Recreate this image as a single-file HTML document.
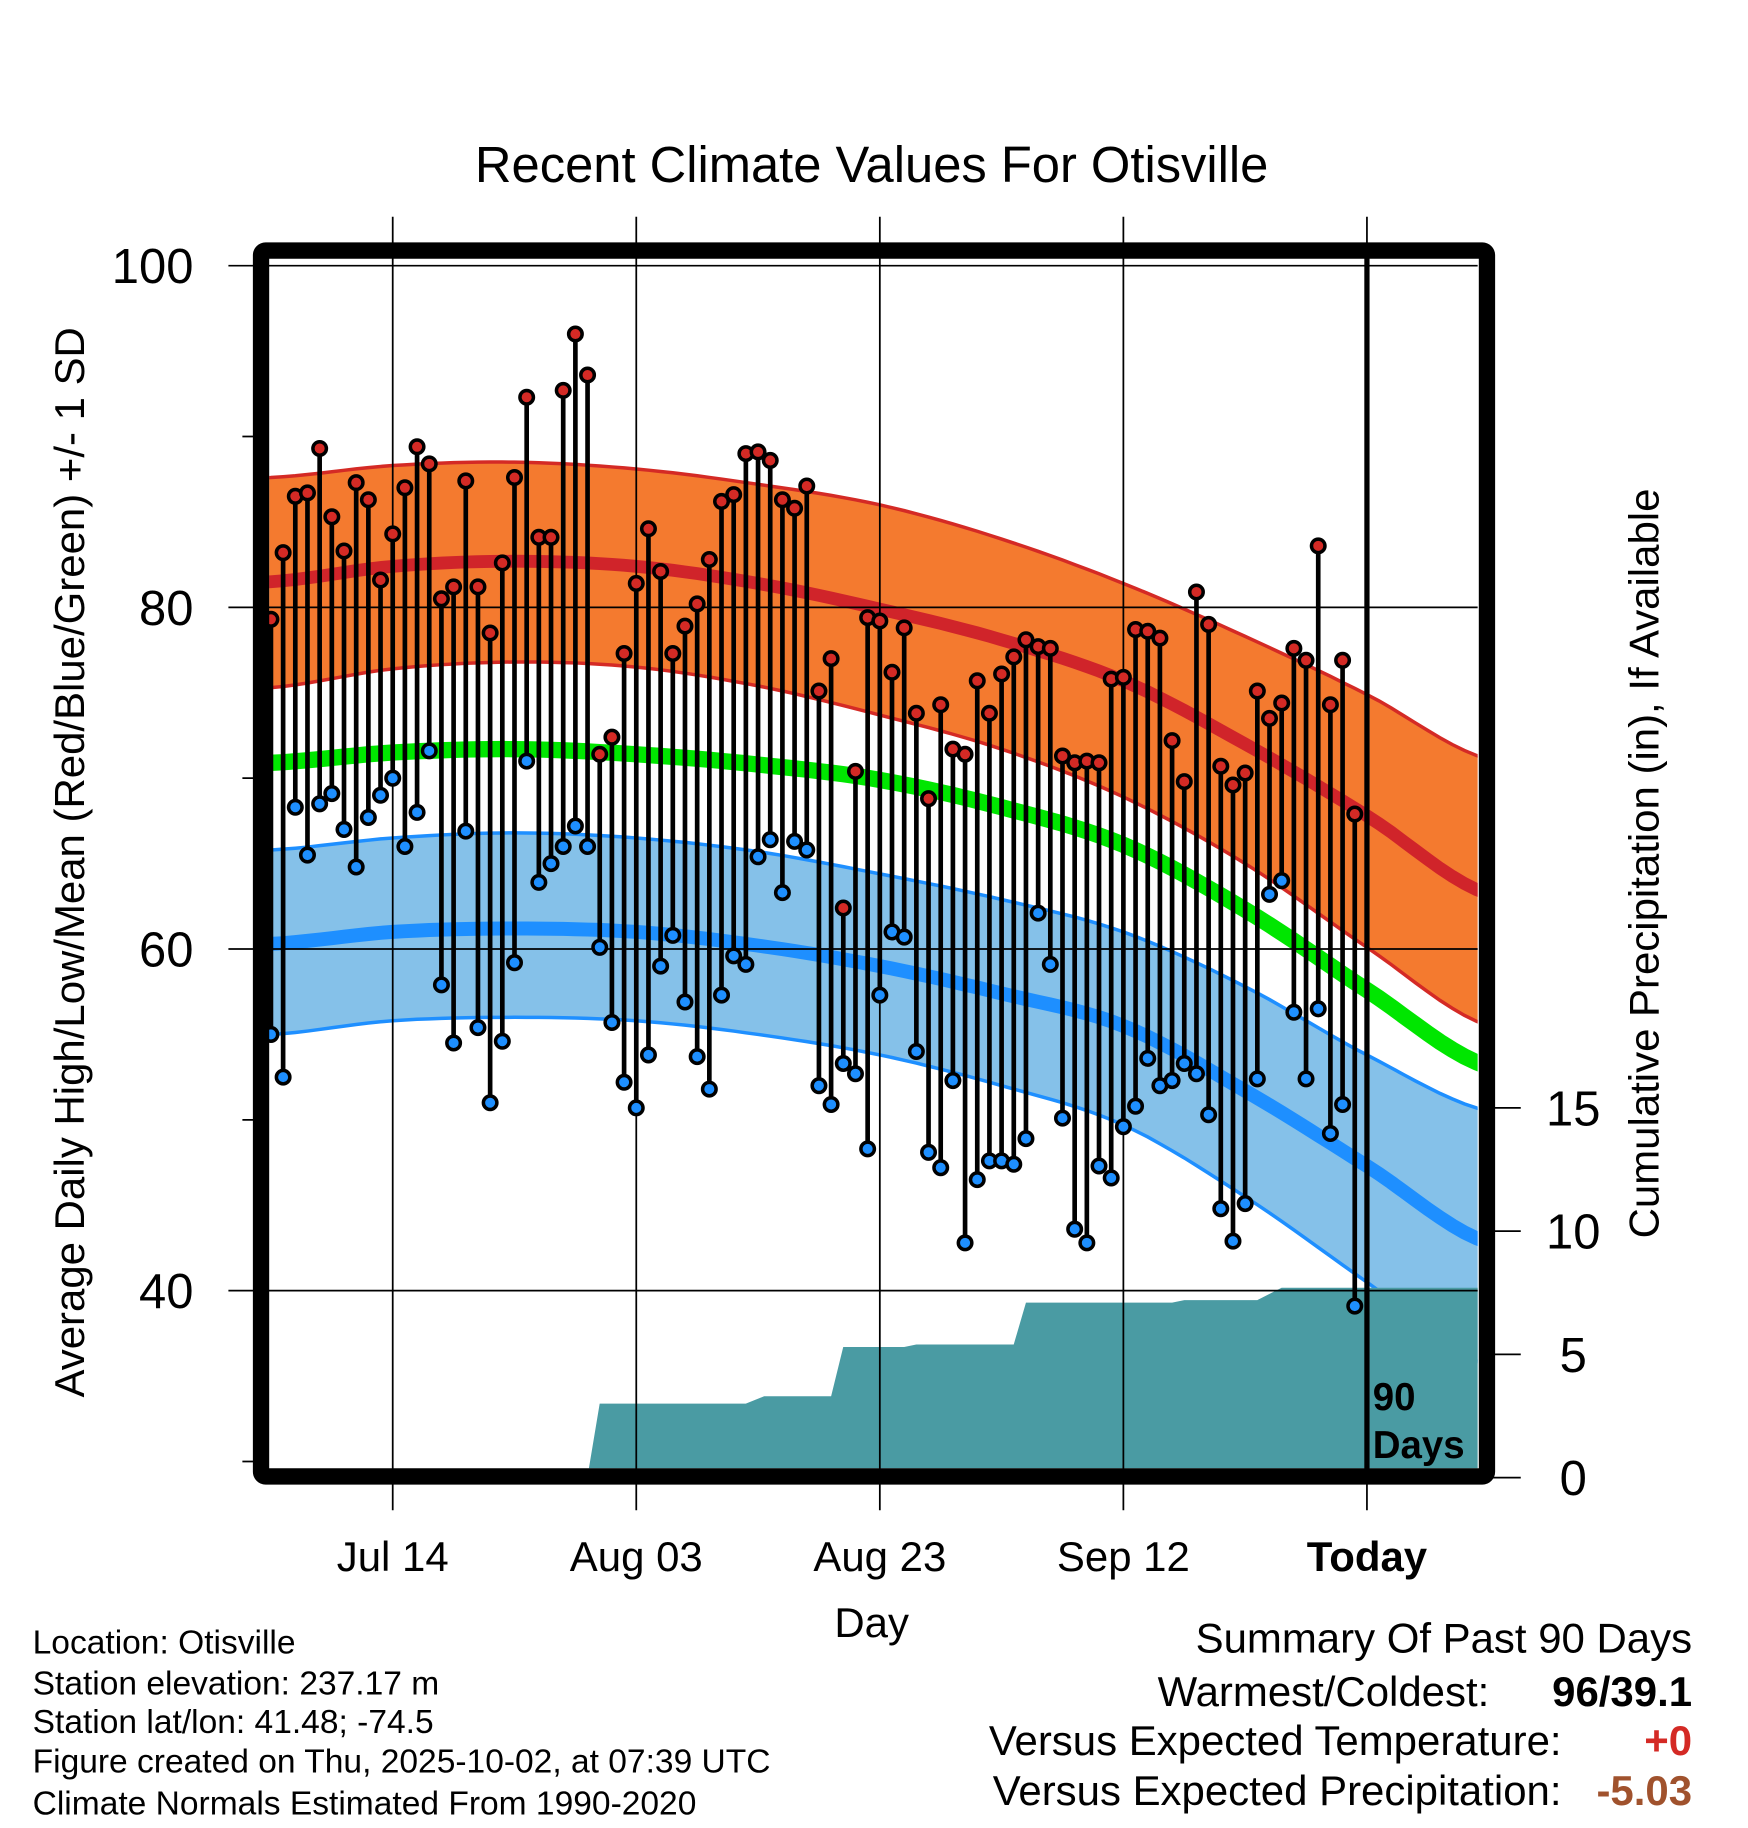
<!DOCTYPE html>
<html><head><meta charset="utf-8"><style>
html,body{margin:0;padding:0;background:#fff;}
svg{display:block;font-family:"Liberation Sans",sans-serif;}
</style></head><body>
<svg id="chart" xmlns="http://www.w3.org/2000/svg" width="1748" height="1828" viewBox="0 0 1500 1568.7" preserveAspectRatio="none">
<defs><clipPath id="plotclip"><rect x="231" y="222" width="1037" height="1038"/></clipPath></defs>
<text x="748" y="156" font-size="43.5" text-anchor="middle">Recent Climate Values For Otisville</text>
<g id="plot" clip-path="url(#plotclip)"></g>
<g id="over"></g>
<text transform="translate(72,740) rotate(-90)" font-size="36" text-anchor="middle">Average Daily High/Low/Mean (Red/Blue/Green) +/- 1 SD</text>
<text transform="translate(1423,741) rotate(-90)" font-size="36" text-anchor="middle">Cumulative Precipitation (in), If Available</text>
<text x="748" y="1405" font-size="36" text-anchor="middle">Day</text>
<g font-size="28.8">
<text x="28" y="1419">Location: Otisville</text>
<text x="28" y="1454">Station elevation: 237.17 m</text>
<text x="28" y="1487">Station lat/lon: 41.48; -74.5</text>
<text x="28" y="1521">Figure created on Thu, 2025-10-02, at 07:39 UTC</text>
<text x="28" y="1557">Climate Normals Estimated From 1990-2020</text>
</g>
<g font-size="36">
<text x="1452" y="1418" text-anchor="end">Summary Of Past 90 Days</text>
<text x="1278" y="1464" text-anchor="end">Warmest/Coldest:</text>
<text x="1452" y="1464" text-anchor="end" font-weight="bold">96/39.1</text>
<text x="1340" y="1506" text-anchor="end">Versus Expected Temperature:</text>
<text x="1452" y="1506" text-anchor="end" font-weight="bold" fill="#d42a25">+0</text>
<text x="1340" y="1549" text-anchor="end">Versus Expected Precipitation:</text>
<text x="1452" y="1549" text-anchor="end" font-weight="bold" fill="#a0522d">-5.03</text>
</g>
</svg>
<script>
const highs=[79.3,83.2,86.5,86.7,89.3,85.3,83.3,87.3,86.3,81.6,84.3,87,89.4,88.4,80.5,81.2,87.4,81.2,78.5,82.6,87.6,92.3,84.1,84.1,92.7,96,93.6,71.4,72.4,77.3,81.4,84.6,82.1,77.3,78.9,80.2,82.8,86.2,86.6,89,89.1,88.6,86.3,85.8,87.1,75.1,77,62.4,70.4,79.4,79.2,76.2,78.8,73.8,68.8,74.3,71.7,71.4,75.7,73.8,76.1,77.1,78.1,77.7,77.6,71.3,70.9,71,70.9,75.8,75.9,78.7,78.6,78.2,72.2,69.8,80.9,79,70.7,69.6,70.3,75.1,73.5,74.4,77.6,76.9,83.6,74.3,76.9,67.9];
const lows=[55,52.5,68.3,65.5,68.5,69.1,67,64.8,67.7,69,70,66,68,71.6,57.9,54.5,66.9,55.4,51,54.6,59.2,71,63.9,65,66,67.2,66,60.1,55.7,52.2,50.7,53.8,59,60.8,56.9,53.7,51.8,57.3,59.6,59.1,65.4,66.4,63.3,66.3,65.8,52,50.9,53.3,52.7,48.3,57.3,61,60.7,54,48.1,47.2,52.3,42.8,46.5,47.6,47.6,47.4,48.9,62.1,59.1,50.1,43.6,42.8,47.3,46.6,49.6,50.8,53.6,52,52.3,53.3,52.7,50.3,44.8,42.9,45.1,52.4,63.2,64,56.3,52.4,56.5,49.2,50.9,39.1];
const normDays=[0,10,20,30,40,50,60,70,80,90,100];
const hiUpper=[87.6,88.3,88.5,88.1,87.2,86.0,84.0,81.4,78.3,74.9,71.1];
const hiMean=[81.5,82.4,82.7,82.4,81.4,79.9,78.1,75.7,72.0,67.8,63.2];
const hiLower=[75.3,76.4,76.8,76.5,75.4,73.7,71.7,68.9,65.0,60.1,55.5];
const avgMean=[70.9,71.5,71.7,71.4,70.8,69.9,68.3,66.1,62.3,57.6,53.1];
const loUpper=[65.8,66.5,66.8,66.5,65.7,64.4,62.9,61.0,57.8,53.8,50.5];
const loMean=[60.3,61.0,61.2,61.0,60.2,59.0,57.4,55.5,51.7,47.3,42.8];
const loLower=[55.0,55.8,56.0,55.8,55.0,53.8,52.0,49.7,45.5,40.5,35.6];
const precipDays=[-1,23,26,27,39,40.5,46,47,52,53,61,62,74,75,81,83,101];
const precipVals=[0,0,0.05,3.0,3.0,3.3,3.3,5.3,5.3,5.4,5.4,7.1,7.1,7.2,7.2,7.7,7.7];
const xTickDays=[10,30,50,70,90];
const xTickLabels=["Jul 14","Aug 03","Aug 23","Sep 12","Today"];
const yTicks=[100,80,60,40];
const yMinor=[90,70,50,30];
const pTicks=[0,5,10,15];

const NS="http://www.w3.org/2000/svg";
const X=d=>232.5+d*10.45;
const Y=v=>228+(100-v)*14.66;
const P=v=>1268-v*21.15;
const plot=document.getElementById('plot');
const over=document.getElementById('over');
function mk(tag,attrs,parent){const e=document.createElementNS(NS,tag);for(const k in attrs)e.setAttribute(k,attrs[k]);parent.appendChild(e);return e;}
function smooth(vals){
  const pts=[];
  for(let d=-2;d<=101;d+=1){
    let i=Math.min(Math.floor(d/10),normDays.length-2);if(i<0)i=0;
    const t=(d-normDays[i])/10;
    const p0=vals[Math.max(i-1,0)],p1=vals[i],p2=vals[i+1],p3=vals[Math.min(i+2,vals.length-1)];
    const v=0.5*((2*p1)+(-p0+p2)*t+(2*p0-5*p1+4*p2-p3)*t*t+(-p0+3*p1-3*p2+p3)*t*t*t);
    pts.push([X(d),Y(v)]);
  }
  return pts;
}
function line(pts){return pts.map((p,i)=>(i?'L':'M')+p[0].toFixed(1)+' '+p[1].toFixed(1)).join(' ');}
function band(up,lo){const a=smooth(up),b=smooth(lo).reverse();return line(a)+' '+b.map(p=>'L'+p[0].toFixed(1)+' '+p[1].toFixed(1)).join(' ')+' Z';}

let e;
e=mk('path',{d:band(hiUpper,hiLower),fill:'#f47a2f'},plot);


e=mk('path',{d:band(loUpper,loLower),fill:'#85c1e9'},plot);


[[hiUpper,'#d42a25',3],[hiLower,'#d42a25',3],[loUpper,'#1e8fff',3],[loLower,'#1e8fff',3],[hiMean,'#d0242a',11],[avgMean,'#00e600',14],[loMean,'#1e8fff',12]].forEach((s,i)=>{
  const p=mk('path',{d:line(smooth(s[0])),fill:'none',stroke:s[1],'stroke-width':s[2]},plot);
  
  
});
let pd='M'+X(precipDays[0])+' 1270';
precipDays.forEach((d,i)=>{pd+=' L'+X(d).toFixed(1)+' '+P(precipVals[i]).toFixed(1);});
pd+=' L'+X(precipDays[precipDays.length-1])+' 1270 Z';
e=mk('path',{d:pd,fill:'#4a9ba3'},plot);


yTicks.forEach(v=>{
  const g=mk('line',{x1:196,x2:1268,y1:Y(v),y2:Y(v),stroke:'#000','stroke-width':1.5},over);
  
  
  const t=mk('text',{x:166,y:Y(v)+15,'font-size':42,'text-anchor':'end'},over);
  t.textContent=v;
  
  
});
yMinor.forEach(v=>{
  const g=mk('line',{x1:208,x2:224,y1:Y(v),y2:Y(v),stroke:'#000','stroke-width':1.5},over);
  
  
});
xTickDays.forEach((d,i)=>{
  const g=mk('line',{x1:X(d),x2:X(d),y1:186,y2:1296,stroke:'#000','stroke-width':1.5},over);
  
  
  if(i==4){
    const tl=mk('line',{x1:X(d),x2:X(d),y1:215,y2:1267,stroke:'#000','stroke-width':4.5},over);
    
    
  }
  const t=mk('text',{x:X(d),y:1348,'font-size':36,'text-anchor':'middle','font-weight':i==4?'bold':'normal'},over);
  t.textContent=xTickLabels[i];
  
  
});
pTicks.forEach(v=>{
  const g=mk('line',{x1:1276,x2:1305,y1:P(v),y2:P(v),stroke:'#000','stroke-width':1.5},over);
  
  
  const t=mk('text',{x:1350,y:P(v)+15,'font-size':42,'text-anchor':'middle'},over);
  t.textContent=v;
  
  
});
highs.forEach((h,i)=>{
  const l=lows[i],x=X(i);
  const s=mk('line',{x1:x,x2:x,y1:Y(h),y2:Y(l),stroke:'#000','stroke-width':4},over);
  
  
});
highs.forEach((h,i)=>{
  const x=X(i);
  const c1=mk('circle',{cx:x,cy:Y(h),r:5.8,fill:'#d42a25',stroke:'#000','stroke-width':3},over);
  
  
  const c2=mk('circle',{cx:x,cy:Y(lows[i]),r:5.8,fill:'#1e8fff',stroke:'#000','stroke-width':3},over);
  
  
});
e=mk('rect',{x:224,y:215,width:1052,height:1052,fill:'none',stroke:'#000','stroke-width':14,rx:4},over);


const t1=mk('text',{x:1178,y:1210,'font-size':33,'font-weight':'bold'},over);
t1.textContent='90';


const t2=mk('text',{x:1178,y:1251,'font-size':33,'font-weight':'bold'},over);
t2.textContent='Days';


</script>
</body></html>
